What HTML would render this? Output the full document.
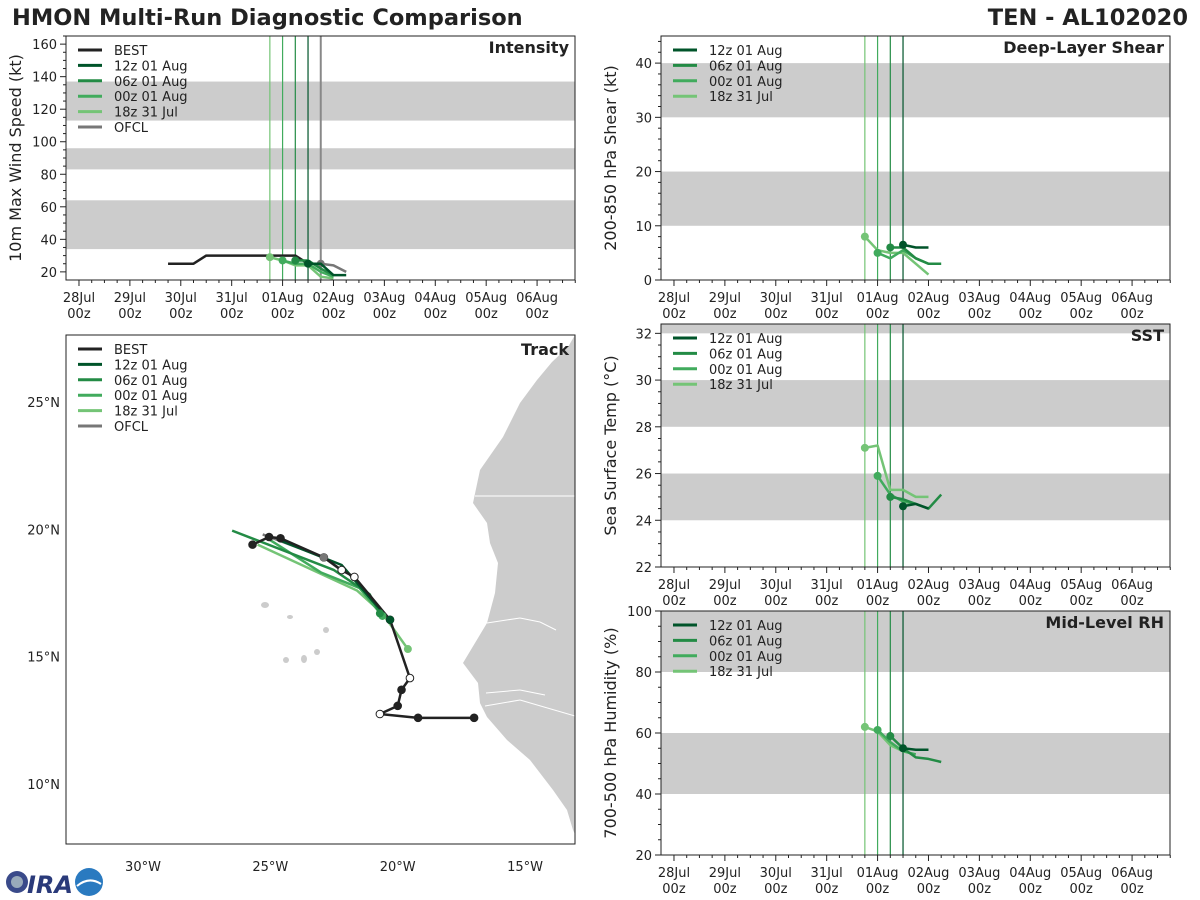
<!DOCTYPE html>
<html><head><meta charset="utf-8">
<style>
body{margin:0;background:#fff;}
svg{display:block;font-family:"DejaVu Sans","Liberation Sans",sans-serif;}
</style></head>
<body>
<svg id="fig" width="1200" height="900" viewBox="0 0 1200 900">
<rect width="1200" height="900" fill="#fff"/>
<text x="12" y="25" font-size="22.5" font-weight="bold" fill="#222">HMON Multi-Run Diagnostic Comparison</text>
<text x="1188" y="25" font-size="22.5" font-weight="bold" fill="#222" text-anchor="end">TEN - AL102020</text>
<g id="layer"></g>
<g>
<circle cx="17" cy="882" r="11" fill="#3a4a8a"/>
<circle cx="17" cy="882" r="6" fill="#9ab"/>
<text x="27" y="893" font-size="24" font-weight="bold" fill="#2a3a7a" font-style="italic">IRA</text>
<circle cx="89" cy="882" r="14" fill="#2a7ac0"/>
<path d="M77 886 Q89 876 101 884" stroke="#fff" stroke-width="2" fill="none"/>
</g>
</svg>
<script>
const NS='http://www.w3.org/2000/svg';
const layer=document.getElementById('layer');
function mk(tag,attrs,parent){const e=document.createElementNS(NS,tag);for(const k in attrs)e.setAttribute(k,attrs[k]);(parent||layer).appendChild(e);return e;}

const runNames=['12z 01 Aug','06z 01 Aug','00z 01 Aug','18z 31 Jul'];
const runColors=['#00542a','#238b45','#41ab5d','#74c476'];
const runInit=[4.5,4.25,4.0,3.75];
const dayLabels=['28Jul','29Jul','30Jul','31Jul','01Aug','02Aug','03Aug','04Aug','05Aug','06Aug'];

// Intensity (days since 28Jul 00z, kt)
const bestT=[1.75,2.25,2.5,3,3.5,4,4.25,4.5,4.75];
const bestV=[25,25,30,30,30,30,30,25,25];
const intT=[[4.5,4.75,5,5.25],[4.25,4.5,4.75,5],[4,4.25,4.5,4.75,5],[3.75,4,4.25,4.5,4.75,5]];
const intV=[[25,25,18,18],[27,27,22,18],[27,25,25,20,17],[29,27,24,24,17,16]];
const ofclT=[4.75,5,5.25];
const ofclV=[25,24,20];
// Shear
const shT=[[4.5,4.75,5],[4.25,4.5,4.75,5,5.25],[4,4.25,4.5,4.75,5],[3.75,4,4.25,4.5,4.75,5]];
const shV=[[6.5,6,6],[6,6,4,3,3],[5,4,5.5,4,3],[8,5.5,5,5,3,1]];
// SST
const sstT=[[4.5,4.75,5],[4.25,4.5,5,5.25],[4,4.25,4.5,4.75],[3.75,4,4.25,4.5,4.75,5]];
const sstV=[[24.6,24.7,24.5],[25.0,24.9,24.5,25.1],[25.9,25.1,24.8,24.7],[27.1,27.2,25.3,25.3,25.0,25.0]];
// RH
const rhT=[[4.5,4.75,5],[4.25,4.5,4.75,5,5.25],[4,4.25,4.5,4.75],[3.75,4,4.25,4.5]];
const rhV=[[55,54.5,54.5],[59,55,52,51.5,50.5],[61,57,54,53],[62,60.5,56,54]];
// Track (lon, lat)
const bestLon=[-17.0,-19.2,-20.7,-20.0,-19.85,-19.52,-20.3,-21.7,-22.2,-22.9,-24.6,-25.05,-25.7];
const bestLat=[12.6,12.6,12.75,13.07,13.7,14.16,16.45,18.13,18.4,18.9,19.65,19.7,19.4];
const bestOpen=[0,0,1,0,0,1,0,1,1,0,0,0,0];
const trLon=[[-20.3,-21.0,-22.2,-24.7],[-20.7,-21.1,-22.5,-26.5],[-20.6,-21.5,-23.0,-25.2],[-19.6,-20.6,-21.6,-25.5]];
const trLat=[[16.45,17.2,18.6,19.6],[16.7,17.45,18.4,19.95],[16.6,17.7,18.3,19.7],[15.3,16.7,17.6,19.4]];
const ofclLon=[-22.1,-22.9,-25.3];
const ofclLat=[18.3,18.9,19.8];

function panel(o){
  const g=mk('g',{});
  
  
  const X=d=>o.x0+(d-(-0.255))*(o.x1-o.x0)/(9.745+0.255);
  const Y=v=>o.y1-(v-o.ymin)*(o.y1-o.y0)/(o.ymax-o.ymin);
  o.bands.forEach(b=>{
    const r=mk('rect',{x:o.x0,y:Y(b[1]),width:o.x1-o.x0,height:Y(b[0])-Y(b[1]),fill:'#cccccc'},g);
    
    
  });
  for(let v=o.tickStart;v<=o.ymax;v+=o.minor){
    const maj=Math.abs(((v-o.tickStart)/o.major)-Math.round((v-o.tickStart)/o.major))<1e-6;
    mk('line',{x1:o.x0,x2:o.x0-(maj?6:3),y1:Y(v),y2:Y(v),stroke:'#222','stroke-width':1},g);
    if(maj){const t=mk('text',{x:o.x0-9,y:Y(v)+5,'font-size':13,'text-anchor':'end',fill:'#222'},g);t.textContent=v;
      
      }
  }
  for(let d=0;d<=9.75;d+=0.25){
    const maj=Math.abs(d-Math.round(d))<1e-6;
    mk('line',{x1:X(d),x2:X(d),y1:o.y1,y2:o.y1+(maj?6:3),stroke:'#222'},g);
    if(maj){const i=Math.round(d);
      const t=mk('text',{x:X(d),y:o.y1+22,'font-size':13,'text-anchor':'middle',fill:'#222'},g);t.textContent=dayLabels[i];
      
      
      const t2=mk('text',{x:X(d),y:o.y1+38,'font-size':13,'text-anchor':'middle',fill:'#222'},g);t2.textContent='00z';
      
      }
  }
  runInit.forEach((d,i)=>{
    const l=mk('line',{x1:X(d),x2:X(d),y1:o.y0,y2:o.y1,stroke:runColors[i],'stroke-width':1.2},g);
    
    
  });
  if(o.ofcl){const l=mk('line',{x1:X(4.75),x2:X(4.75),y1:o.y0,y2:o.y1,stroke:'#888','stroke-width':2},g);
    
    }
  const line=(ts,vs,c,w,name)=>{
    const p=mk('polyline',{points:ts.map((t,i)=>X(t)+','+Y(vs[i])).join(' '),fill:'none',stroke:c,'stroke-width':w,'stroke-linejoin':'round'},g);
    
    
  };
  if(o.best)line(o.best[0],o.best[1],'#222',2.5,'best-series');
  if(o.ofcl){line(o.ofcl[0],o.ofcl[1],'#777',2.5,'ofcl-series');
    const c=mk('circle',{cx:X(o.ofcl[0][0]),cy:Y(o.ofcl[1][0]),r:4,fill:'#777'},g);
    
    }
  for(let i=3;i>=0;i--){
    line(o.T[i],o.V[i],runColors[i],2.5,'run-series');
    const c=mk('circle',{cx:X(o.T[i][0]),cy:Y(o.V[i][0]),r:4,fill:runColors[i]},g);
    
    
  }
  const fr=mk('rect',{x:o.x0,y:o.y0,width:o.x1-o.x0,height:o.y1-o.y0,fill:'none',stroke:'#222','stroke-width':1},g);
  
  
  const tt=mk('text',{x:o.x1-6,y:o.y0+17,'font-size':16,'font-weight':'bold','text-anchor':'end',fill:'#222'},g);tt.textContent=o.title;
  
  
  const yl=mk('text',{x:0,y:0,'font-size':16,'text-anchor':'middle',fill:'#222',transform:`translate(${o.x0-45},${(o.y0+o.y1)/2}) rotate(-90)`},g);yl.textContent=o.ylabel;
  
  
  legend(g,o.x0+12,o.y0+14,o.best?true:false,o.ofcl?true:false);
}
function legend(g,x,y,best,ofcl){
  const items=[];
  if(best)items.push(['BEST','#222']);
  runNames.forEach((n,i)=>items.push([n,runColors[i]]));
  if(ofcl)items.push(['OFCL','#777']);
  items.forEach((it,i)=>{
    const yy=y+i*15.4;
    const l=mk('line',{x1:x,x2:x+24,y1:yy,y2:yy,stroke:it[1],'stroke-width':3},g);
    
    
    const t=mk('text',{x:x+36,y:yy+5,'font-size':13,fill:'#222'},g);t.textContent=it[0];
    
    
  });
}
panel({name:'intensity-panel',title:'Intensity',ylabel:'10m Max Wind Speed (kt)',x0:66,x1:575,y0:36,y1:280,ymin:15,ymax:165,tickStart:20,major:20,minor:5,bands:[[34,64],[83,96],[113,137]],T:intT,V:intV,best:[bestT,bestV],ofcl:[ofclT,ofclV]});
panel({name:'shear-panel',title:'Deep-Layer Shear',ylabel:'200-850 hPa Shear (kt)',x0:661,x1:1170,y0:36,y1:280,ymin:0,ymax:45,tickStart:0,major:10,minor:2,bands:[[10,20],[30,40]],T:shT,V:shV});
panel({name:'sst-panel',title:'SST',ylabel:'Sea Surface Temp (°C)',x0:661,x1:1170,y0:324,y1:567,ymin:22,ymax:32.4,tickStart:22,major:2,minor:0.5,bands:[[24,26],[28,30],[32,32.4]],T:sstT,V:sstV});
panel({name:'rh-panel',title:'Mid-Level RH',ylabel:'700-500 hPa Humidity (%)',x0:661,x1:1170,y0:611,y1:855,ymin:20,ymax:100,tickStart:20,major:20,minor:5,bands:[[40,60],[80,100]],T:rhT,V:rhV});

(function(){
  const g=mk('g',{});
  
  
  const PX=lon=>143+(lon+30)*25.47, PY=lat=>402-(lat-25)*25.47;
  const cp=mk('clipPath',{id:'mapclip'},g);mk('rect',{x:66,y:335,width:509,height:509},cp);
  const mg=mk('g',{'clip-path':'url(#mapclip)'},g);
  const land=mk('polygon',{points:'575,335 568,347 552,362 537,380 520,403 503,437 480,470 473,503 487,523 490,543 498,563 495,593 487,623 463,663 478,683 480,703 487,717 507,740 530,760 553,790 567,810 573,830 580,845 600,845 600,335',fill:'#cccccc'},mg);
  
  
  [[475,496,575,496],[487,623,520,618],[520,618,540,622],[540,622,556,630],[486,693,520,690],[520,690,545,695],[485,706,520,700],[520,700,575,716]].forEach(b=>{
    const l=mk('line',{x1:b[0],y1:b[1],x2:b[2],y2:b[3],stroke:'#fff','stroke-width':1},mg);
    
    
  });
  [[265,605,4,3],[290,617,3,2],[326,630,3,3],[317,652,3,3],[304,659,3,4],[286,660,3,3]].forEach(s=>{
    const e=mk('ellipse',{cx:s[0],cy:s[1],rx:s[2],ry:s[3],fill:'#cccccc'},mg);
    
    
  });
  const pl=(lons,lats,c,name)=>{const p=mk('polyline',{points:lons.map((l,i)=>PX(l)+','+PY(lats[i])).join(' '),fill:'none',stroke:c,'stroke-width':2.5,'stroke-linejoin':'round'},mg);
    
    };
  pl(ofclLon,ofclLat,'#777','ofcl-track');
  for(let i=3;i>=0;i--)pl(trLon[i],trLat[i],runColors[i],'run-track');
  pl(bestLon,bestLat,'#222','best-track');
  bestLon.forEach((l,i)=>{const c=mk('circle',{cx:PX(l),cy:PY(bestLat[i]),r:3.8,fill:bestOpen[i]?'#fff':'#222',stroke:'#222','stroke-width':1},mg);
    
    });
  const oc=mk('circle',{cx:PX(ofclLon[1]),cy:PY(ofclLat[1]),r:4,fill:'#777'},mg);
  
  
  for(let i=3;i>=0;i--){const c=mk('circle',{cx:PX(trLon[i][0]),cy:PY(trLat[i][0]),r:4,fill:runColors[i]},mg);
    
    }
  const fr=mk('rect',{x:66,y:335,width:509,height:509,fill:'none',stroke:'#222'},g);
  
  
  [25,20,15,10].forEach(lat=>{const t=mk('text',{x:60,y:PY(lat)+5,'font-size':13,'text-anchor':'end',fill:'#222'},g);t.textContent=lat+'°N';
    
    });
  [30,25,20,15].forEach(lon=>{const t=mk('text',{x:PX(-lon),y:871,'font-size':13,'text-anchor':'middle',fill:'#222'},g);t.textContent=lon+'°W';
    
    });
  const tt=mk('text',{x:569,y:355,'font-size':16,'font-weight':'bold','text-anchor':'end',fill:'#222'},g);tt.textContent='Track';
  
  
  const lg=mk('g',{},g);
  legend(lg,78,349,true,true);
})();
</script>
</body></html>
